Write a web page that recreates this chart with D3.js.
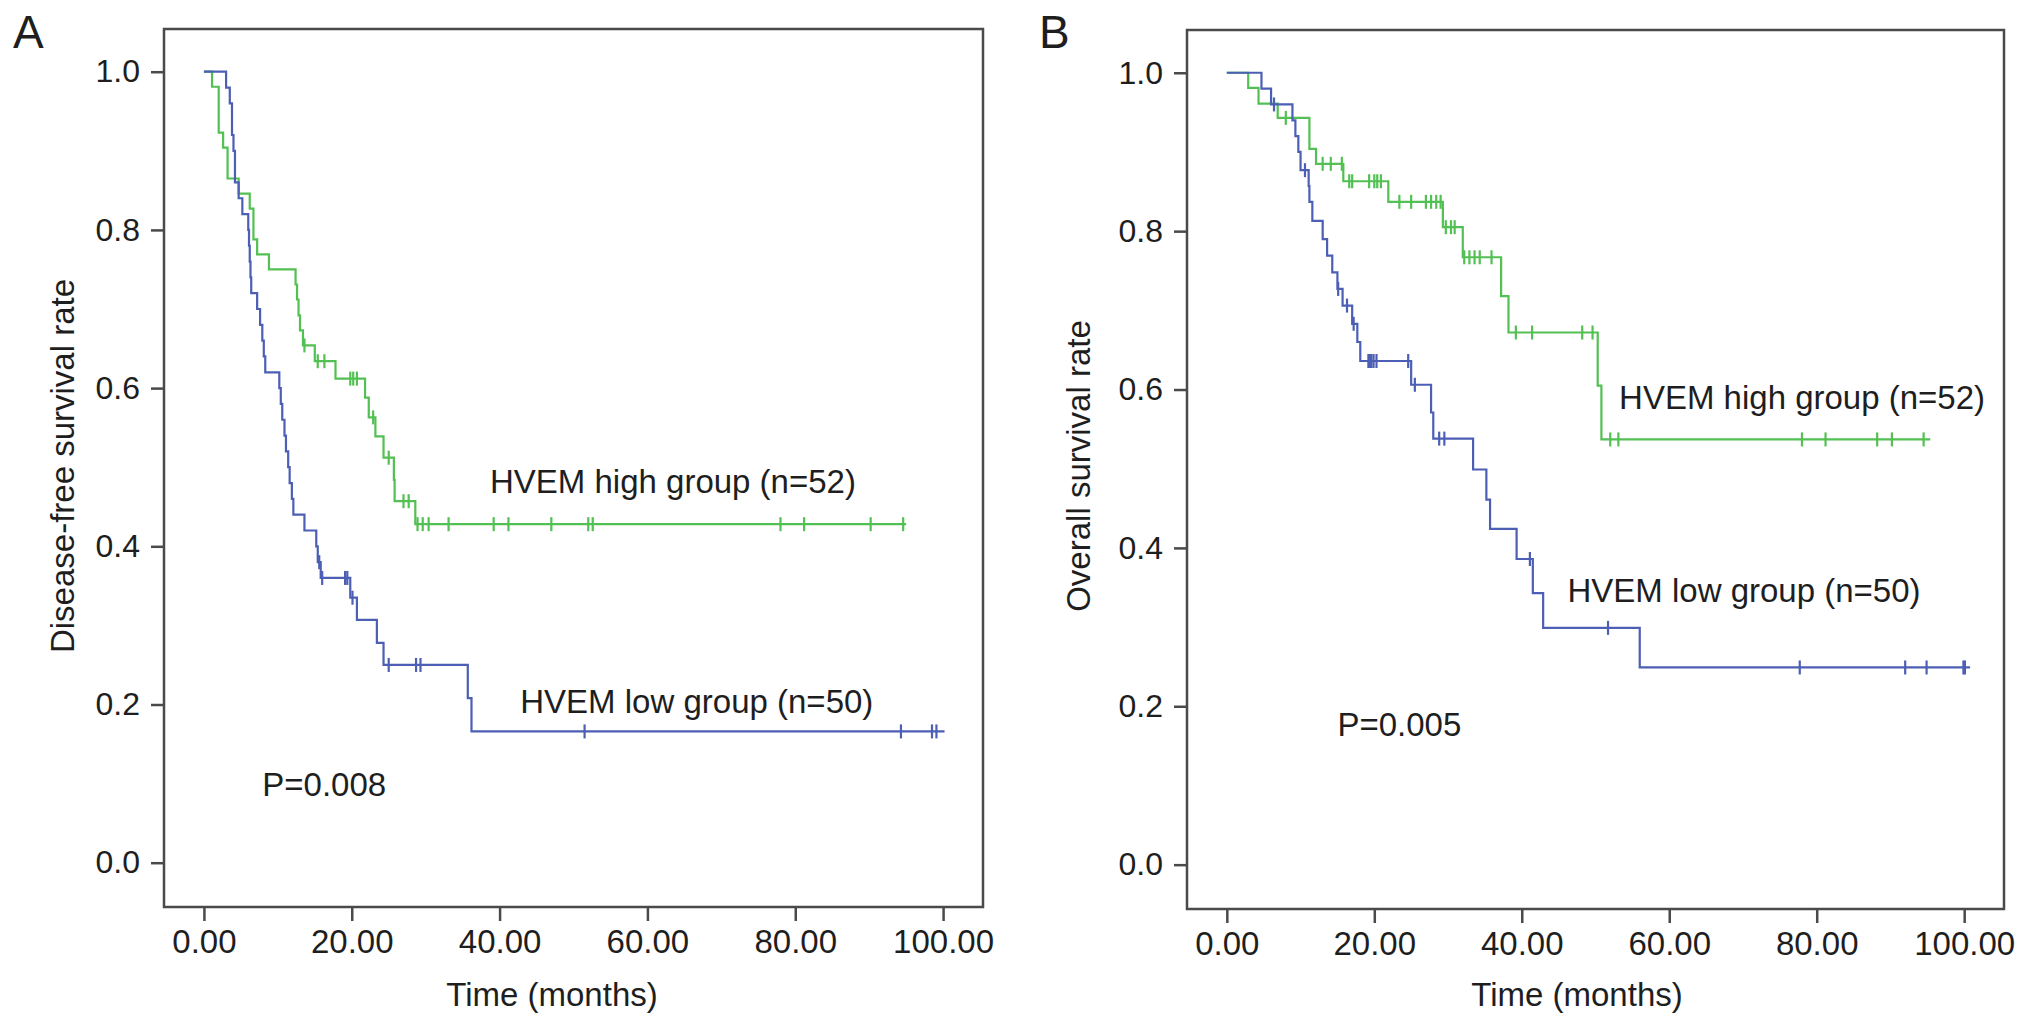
<!DOCTYPE html>
<html>
<head>
<meta charset="utf-8">
<script src="https://cdn.jsdelivr.net/npm/d3@7"></script>
<style>
  body { margin: 0; background: #fff; }
  text { font-family: "Liberation Sans", Arial, Helvetica, sans-serif; fill: #1e1e1e; }
</style>
</head>
<body>
<div id="chart"></div>
<script>
// ---- values ----
const xTicks = [0, 20, 40, 60, 80, 100];
const yTicks = [0, 0.2, 0.4, 0.6, 0.8, 1.0];

// Panel A, disease-free survival. steps = [months, survival after the drop]
const dfsHighSteps = [[0,1],[1.1,.981],[2.0,.923],[2.6,.904],[3.2,.865],[4.7,.846],[6.2,.827],[6.7,.788],
  [7.2,.769],[8.8,.750],[12.4,.731],[12.6,.712],[12.8,.692],[13.0,.673],[13.4,.654],[15.0,.634],[17.8,.612],
  [21.8,.588],[22.3,.563],[23.2,.539],[24.3,.512],[25.7,.484],[25.8,.457],[28.6,.428]];
const dfsHighCensor = [13.6,15.4,16.3,19.8,20.2,20.7,22.9,25.0,27.0,27.7,28.9,29.6,30.4,33.1,39.2,41.2,
  47.0,52.0,52.6,78.0,81.2,90.2,94.6];
const dfsHighEnd = 95.0;

const dfsLowSteps = [[0,1],[3.0,.98],[3.5,.96],[3.8,.92],[4.0,.90],[4.2,.86],[4.7,.84],[5.2,.82],[6.0,.80],
  [6.1,.78],[6.2,.76],[6.3,.74],[6.4,.72],[7.2,.70],[7.6,.68],[7.9,.66],[8.1,.64],[8.3,.62],[10.2,.60],
  [10.4,.58],[10.6,.56],[10.9,.54],[11.1,.52],[11.4,.50],[11.6,.48],[11.9,.46],[12.1,.44],[13.6,.42],
  [15.2,.40],[15.4,.38],[15.8,.36],[19.8,.335],[20.7,.307],[23.4,.278],[24.3,.25],[35.7,.208],[36.2,.166]];
const dfsLowCensor = [15.6,16.0,19.1,19.4,20.1,25.0,28.7,29.3,51.5,94.3,98.5,99.1];
const dfsLowEnd = 100.2;

// Panel B, overall survival
const osHighSteps = [[0,1],[2.9,.981],[4.3,.961],[6.9,.943],[11.2,.904],[12.1,.885],[15.8,.863],[21.9,.837],
  [29.3,.805],[32.0,.767],[37.2,.718],[38.2,.672],[50.3,.605],[50.8,.537]];
const osHighCensor = [8.0,13.0,14.1,15.6,16.6,17.0,19.3,20.0,20.4,20.9,23.4,25.0,27.0,27.7,28.4,29.0,29.7,
  30.4,30.9,32.2,32.9,33.6,34.3,35.9,39.2,41.4,48.2,49.6,52.0,53.1,78.0,81.2,88.2,90.2,94.5];
const osHighEnd = 95.4;

const osLowSteps = [[0,1],[4.7,.98],[6.0,.96],[8.9,.94],[9.3,.92],[9.7,.90],[10.0,.877],[11.1,.857],
  [11.2,.837],[11.6,.813],[13.0,.79],[13.6,.769],[14.3,.748],[15.0,.727],[15.7,.706],[17.0,.683],[17.7,.66],
  [18.1,.636],[25.0,.606],[27.7,.571],[28.0,.538],[33.4,.499],[35.2,.461],[35.7,.424],[39.3,.386],
  [41.5,.343],[42.9,.299],[56.0,.249]];
const osLowCensor = [6.4,10.6,15.1,16.3,17.2,19.2,19.4,19.6,19.9,20.3,24.6,25.5,28.8,29.5,41.1,51.7,77.7,
  92.0,94.9,99.9,100.1];
const osLowEnd = 100.8;

const groupNames = ["HVEM high group (n=52)", "HVEM low group (n=50)"];
const pValues = ["P=0.008", "P=0.005"];

// ---- layout ----
const W = 2032, H = 1026;
const green = "#52c052", blue = "#4c5fb4", frameColor = "#4a4a4a";

const svg = d3.select("#chart").append("svg")
  .attr("width", W).attr("height", H);

const panels = [
  { letter: "A", letterX: 13, ytitle: "Disease-free survival rate",
    left: 164, top: 29, width: 819, height: 878, ytitleX: 74, xtitleX: 552,
    groups: [
      { steps: dfsHighSteps, censor: dfsHighCensor, end: dfsHighEnd, color: green, name: groupNames[0], at: [38.7, .467] },
      { steps: dfsLowSteps, censor: dfsLowCensor, end: dfsLowEnd, color: blue, name: groupNames[1], at: [42.8, .189] }
    ],
    p: pValues[0], pAt: [7.9, .084] },
  { letter: "B", letterX: 1039, ytitle: "Overall survival rate",
    left: 1187, top: 30, width: 817, height: 879, ytitleX: 1090, xtitleX: 1577,
    groups: [
      { steps: osHighSteps, censor: osHighCensor, end: osHighEnd, color: green, name: groupNames[0], at: [53.2, .575] },
      { steps: osLowSteps, censor: osLowCensor, end: osLowEnd, color: blue, name: groupNames[1], at: [46.2, .332] }
    ],
    p: pValues[1], pAt: [15.0, .163] }
];

// survival value at time t from a step list
function survivalAt(steps, t) {
  let v = steps[0][1];
  steps.forEach(s => { if (s[0] <= t) v = s[1]; });
  return v;
}

panels.forEach(p => {
  const x = d3.scaleLinear().domain([-5.4, 105.4]).range([p.left, p.left + p.width]);
  const y = d3.scaleLinear().domain([-0.056, 1.054]).range([p.top + p.height, p.top]);

  // frame
  svg.append("rect")
    .attr("x", p.left).attr("y", p.top)
    .attr("width", p.width).attr("height", p.height)
    .attr("fill", "none").attr("stroke", frameColor).attr("stroke-width", 2.5);

  // x axis
  svg.append("g")
    .attr("transform", `translate(0,${p.top + p.height})`)
    .attr("color", frameColor)
    .call(d3.axisBottom(x).tickValues(xTicks).tickFormat(d3.format(".2f")).tickSize(14).tickPadding(9))
    .call(g => g.select(".domain").remove())
    .call(g => g.selectAll("line").attr("stroke-width", 2.5))
    .attr("font-size", 33);

  // y axis
  svg.append("g")
    .attr("transform", `translate(${p.left},0)`)
    .attr("color", frameColor)
    .call(d3.axisLeft(y).tickValues(yTicks).tickFormat(d3.format(".1f")).tickSize(13).tickPadding(11))
    .call(g => g.select(".domain").remove())
    .call(g => g.selectAll("line").attr("stroke-width", 2.5))
    .attr("font-size", 32);

  // axis titles
  svg.append("text").attr("x", p.xtitleX).attr("y", 1006)
    .attr("text-anchor", "middle").style("font-size", "33px").text("Time (months)");
  svg.append("text")
    .attr("transform", `translate(${p.ytitleX},${466}) rotate(-90)`)
    .attr("text-anchor", "middle").style("font-size", "33px").text(p.ytitle);

  // panel letter
  svg.append("text").attr("x", p.letterX).attr("y", 48)
    .style("font-size", "46px").text(p.letter);

  // curves
  const line = d3.line().x(d => x(d[0])).y(d => y(d[1])).curve(d3.curveStepAfter);
  p.groups.forEach(g => {
    const pts = g.steps.concat([[g.end, g.steps[g.steps.length - 1][1]]]);
    svg.append("path").datum(pts)
      .attr("fill", "none").attr("stroke", g.color).attr("stroke-width", 2.2)
      .attr("d", line);

    svg.append("g").selectAll("line")
      .data(g.censor)
      .join("line")
        .attr("x1", d => x(d)).attr("x2", d => x(d))
        .attr("y1", d => y(survivalAt(g.steps, d)) - 7)
        .attr("y2", d => y(survivalAt(g.steps, d)) + 7)
        .attr("stroke", g.color).attr("stroke-width", 2.2);

    svg.append("text").attr("x", x(g.at[0])).attr("y", y(g.at[1]))
      .style("font-size", "33px").text(g.name);
  });

  svg.append("text").attr("x", x(p.pAt[0])).attr("y", y(p.pAt[1]))
    .style("font-size", "33px").text(p.p);
});
</script>
</body>
</html>
